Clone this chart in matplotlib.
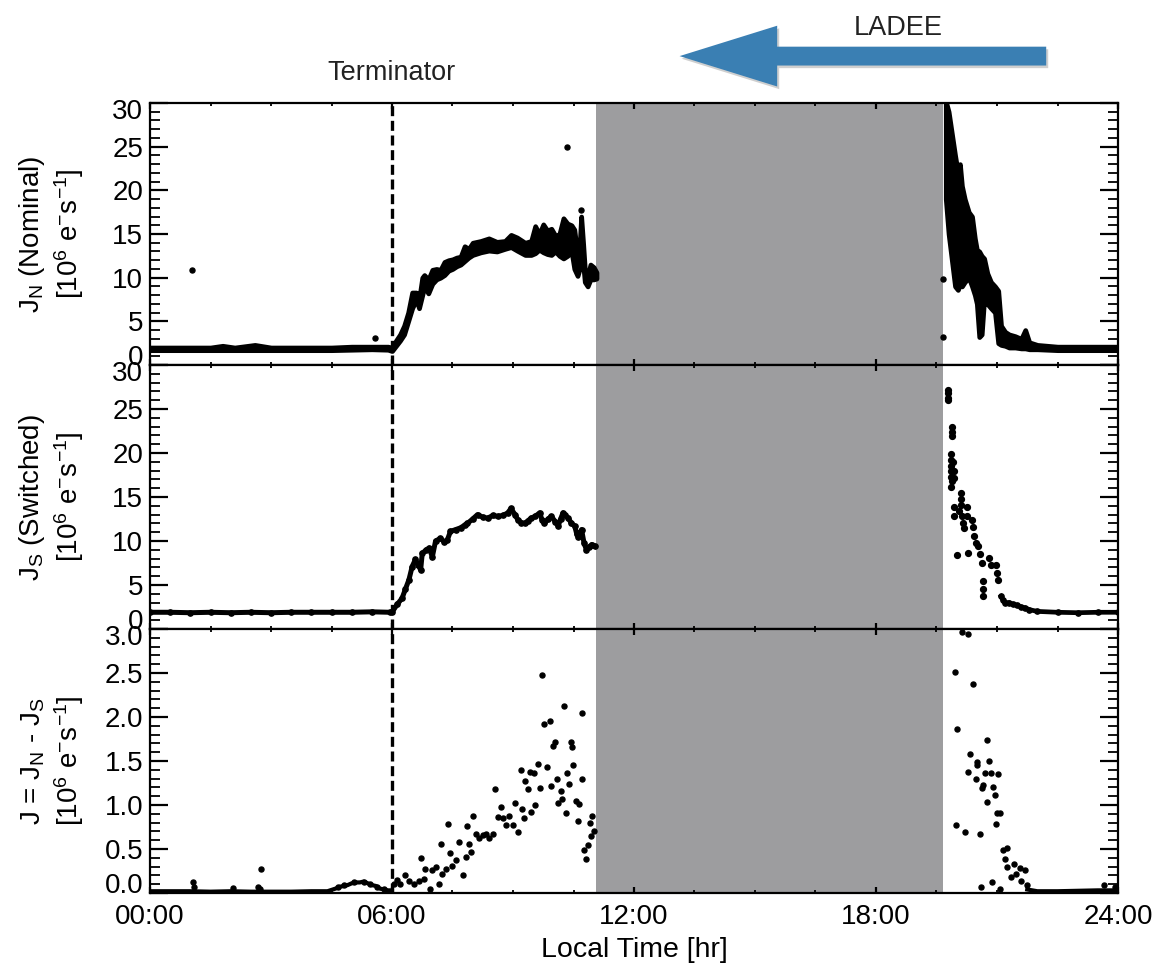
import numpy as np
import matplotlib
matplotlib.use("Agg")
import matplotlib.pyplot as plt
from matplotlib.ticker import MultipleLocator, FuncFormatter, FormatStrFormatter, FixedLocator
from matplotlib.transforms import blended_transform_factory, ScaledTranslation
from matplotlib.patches import Polygon

plt.rcParams['font.family'] = ['Liberation Sans', 'DejaVu Sans']
plt.rcParams['mathtext.default'] = 'regular'

# ---------------- data (hours, 10^6 e- s^-1) ----------------
terminator_hr = 6.0
gap_start_hr, gap_end_hr = 11.06, 19.65
x_ticks = [0, 6, 12, 18, 24]
y_ticks_top = [0, 5, 10, 15, 20, 25, 30]
y_ticks_bot = [0.0, 0.5, 1.0, 1.5, 2.0, 2.5, 3.0]

# Panel 1: J_N (Nominal) -- dense band, given as lower / upper envelope
jn_am_t = [0.0, 0.5, 1.0, 1.5, 1.8, 2.1, 2.6, 3.0, 3.5, 4.0,
           4.5, 5.0, 5.5, 5.9, 6.0, 6.1, 6.2, 6.3, 6.4, 6.5,
           6.6, 6.67, 6.75, 6.8, 6.9, 7.0, 7.1, 7.2, 7.3, 7.4,
           7.5, 7.6, 7.7, 7.8, 7.9, 8.0, 8.2, 8.4, 8.6, 8.8,
           8.95, 9.1, 9.3, 9.45, 9.55, 9.65, 9.75, 9.85, 9.95, 10.05,
           10.15, 10.25, 10.35, 10.45, 10.52, 10.6, 10.65, 10.69, 10.74, 10.78,
           10.85, 10.92, 11.0, 11.07]
jn_am_lo = [1.7, 1.7, 1.7, 1.7, 1.7, 1.7, 1.7, 1.7, 1.7, 1.7,
            1.7, 1.75, 1.8, 1.75, 1.6, 2.2, 2.8, 3.5, 5.0, 6.5,
            7.5, 6.5, 8.0, 9.0, 8.2, 9.3, 9.8, 10.0, 10.3, 10.8,
            11.0, 11.3, 11.5, 11.9, 12.3, 12.6, 12.9, 13.1, 13.0, 13.3,
            13.5, 13.1, 12.6, 12.6, 12.8, 13.2, 12.9, 12.7, 12.6, 13.0,
            12.5, 12.2, 12.5, 13.0, 11.0, 10.2, 11.0, 12.0, 11.5, 9.5,
            9.0, 9.8, 9.8, 9.9]
jn_am_hi = [2.0, 2.0, 2.0, 2.0, 2.2, 2.0, 2.3, 2.0, 2.0, 2.0,
            2.0, 2.1, 2.1, 2.1, 2.0, 2.8, 3.5, 4.5, 6.0, 8.3,
            8.3, 7.5, 10.0, 10.3, 9.8, 10.9, 11.0, 10.9, 11.8, 12.0,
            12.1, 12.3, 12.4, 13.6, 13.3, 14.0, 14.2, 14.5, 14.1, 14.2,
            14.9, 14.6, 14.0, 14.2, 15.9, 15.0, 16.1, 15.4, 15.6, 14.8,
            15.0, 16.8, 16.2, 16.0, 15.5, 12.5, 13.5, 17.0, 13.8, 11.0,
            10.2, 11.5, 11.2, 10.6]
jn_pm_t = [19.73, 19.8, 19.88, 19.96, 20.03, 20.08, 20.13, 20.2, 20.3, 20.38,
           20.45, 20.5, 20.56, 20.62, 20.68, 20.76, 20.85, 20.95, 21.03, 21.1,
           21.2, 21.3, 21.45, 21.6, 21.7, 21.8, 22.0, 22.5, 23.0, 23.5, 24.0]
jn_pm_lo = [19.0, 15.0, 12.0, 9.0, 8.6, 9.2, 9.0, 9.5, 10.0, 9.0,
            8.0, 7.0, 3.2, 3.5, 7.5, 7.0, 6.5, 6.0, 2.5, 2.3,
            2.2, 2.0, 2.0, 1.9, 1.9, 1.8, 1.8, 1.7, 1.7, 1.7, 1.7]
jn_pm_hi = [30.2, 29.0, 26.5, 24.0, 22.0, 23.0, 20.5, 19.0, 17.5, 17.0,
            14.5, 13.2, 13.0, 12.5, 12.2, 10.5, 9.5, 9.0, 8.5, 4.5,
            3.8, 3.5, 3.3, 3.0, 4.0, 2.6, 2.3, 2.1, 2.1, 2.1, 2.1]
jn_out_t = [1.05, 5.59, 10.35, 10.69, 19.67, 19.67]
jn_out_v = [10.9, 3.05, 25.0, 17.7, 9.85, 3.2]

# Panel 2: J_S (Switched)
js_am_t = [0.0, 0.5, 1.0, 1.5, 2.0, 2.5, 3.0, 3.5, 4.0, 4.5,
           5.0, 5.5, 5.95, 6.0, 6.13, 6.25, 6.33, 6.42, 6.5, 6.58,
           6.65, 6.71, 6.75, 6.85, 6.92, 7.0, 7.08, 7.2, 7.3, 7.37,
           7.45, 7.58, 7.7, 7.8, 7.87, 8.0, 8.12, 8.25, 8.37, 8.5,
           8.62, 8.75, 8.87, 8.95, 9.05, 9.12, 9.2, 9.29, 9.37, 9.45,
           9.55, 9.66, 9.72, 9.78, 9.87, 9.95, 10.05, 10.12, 10.18, 10.24,
           10.3, 10.37, 10.45, 10.53, 10.58, 10.62, 10.7, 10.76, 10.82, 10.88,
           10.95, 11.03]
js_am_v = [1.9, 1.9, 1.85, 1.9, 1.85, 1.9, 1.85, 1.9, 1.9, 1.9,
           1.9, 1.95, 1.9, 1.9, 2.8, 3.5, 4.5, 5.6, 7.1, 7.9,
           7.3, 6.7, 8.6, 9.0, 9.2, 8.2, 10.0, 10.3, 9.9, 10.1,
           11.1, 11.3, 11.5, 11.8, 12.0, 12.5, 13.0, 12.7, 12.6, 12.9,
           12.8, 12.9, 13.2, 13.7, 13.0, 12.4, 12.1, 12.0, 12.3, 12.6,
           12.8, 13.2, 12.4, 12.0, 12.5, 12.8, 12.2, 11.7, 12.5, 13.2,
           12.9, 12.6, 12.0, 11.7, 10.8, 10.5, 11.3, 9.8, 9.0, 9.3,
           9.6, 9.4]
js_pm_t = [19.78, 19.78, 19.78, 19.78,
           19.89, 19.89, 19.89,
           19.85, 19.86, 19.85, 19.87, 19.86, 19.88, 19.87,
           19.92, 19.93, 19.94,
           20.10, 20.10, 20.10,
           19.94, 19.94,
           20.05, 20.12, 20.15, 20.18,
           20.26, 20.26,
           20.37, 20.40, 20.44, 20.48,
           20.02, 20.27,
           20.53, 20.58, 20.63,
           20.80, 20.84,
           20.98, 21.00, 21.03,
           20.66, 20.66, 20.66]
js_pm_v = [27.2, 26.8, 26.3, 26.0,
           23.0, 22.4, 21.9,
           19.9, 19.2, 18.5, 17.9, 17.3, 16.8, 16.1,
           19.0, 18.0, 17.2,
           15.5, 14.8, 14.1,
           13.9, 12.8,
           13.4, 12.8, 12.0, 11.5,
           13.9, 12.8,
           12.4, 11.6, 10.6, 9.8,
           8.4, 8.6,
           9.4, 8.5, 7.5,
           8.1, 7.3,
           7.3, 6.4, 5.6,
           5.4, 4.6, 3.7]
js_tail_t = [21.1, 21.15, 21.2, 21.3, 21.4, 21.5, 21.6, 21.7, 21.8, 22.0, 22.5, 23.0, 23.5, 24.0]
js_tail_v = [3.7, 3.3, 3.0, 3.0, 2.8, 2.7, 2.5, 2.4, 2.2, 2.0, 1.9, 1.85, 1.9, 1.9]

# Panel 3: J = J_N - J_S
j_base_t = [0.0, 0.5, 1.0, 1.5, 2.0, 2.5, 3.0, 3.5, 4.0, 4.4,
            4.6, 4.7, 4.8, 4.9, 5.0, 5.1, 5.2, 5.3, 5.4, 5.5,
            5.6, 5.7, 5.8, 5.9, 6.0]
j_base_v = [0.02, 0.02, 0.02, 0.015, 0.02, 0.015, 0.015, 0.015, 0.02, 0.02,
            0.05, 0.07, 0.08, 0.09, 0.11, 0.12, 0.12, 0.13, 0.11, 0.09,
            0.08, 0.05, 0.04, 0.03, 0.03]
j_early_t = [1.06, 1.10, 2.05, 2.68, 2.74, 2.72, 4.67, 4.80, 5.05, 5.30, 5.46, 5.63, 5.79]
j_early_v = [0.125, 0.07, 0.057, 0.07, 0.277, 0.05, 0.07, 0.09, 0.125, 0.13, 0.1, 0.07, 0.04]
j_am_t = [6.04, 6.13, 6.21, 6.33, 6.42, 6.54, 6.67, 6.71, 6.79, 6.83,
          6.94, 7.0, 7.08, 7.17, 7.21, 7.25, 7.33, 7.39, 7.44, 7.5,
          7.58, 7.66, 7.75, 7.83, 7.87, 7.91, 7.97, 8.02, 8.08, 8.16,
          8.25, 8.33, 8.41, 8.5, 8.55, 8.62, 8.7, 8.74, 8.83, 8.91,
          8.99, 9.04, 9.12, 9.19, 9.22, 9.27, 9.3, 9.37, 9.41, 9.45,
          9.53, 9.55, 9.62, 9.66, 9.73, 9.78, 9.85, 9.91, 9.93, 9.99,
          10.03, 10.08, 10.12, 10.18, 10.22, 10.27, 10.31, 10.35, 10.39, 10.43,
          10.47, 10.49, 10.56, 10.6, 10.64, 10.7, 10.72, 10.76, 10.82, 10.86,
          10.91, 10.94, 10.97, 11.0]
j_am_v = [0.106, 0.15, 0.106, 0.2, 0.14, 0.106, 0.14, 0.4, 0.16, 0.277,
          0.05, 0.26, 0.3, 0.106, 0.56, 0.22, 0.277, 0.78, 0.45, 0.31,
          0.37, 0.58, 0.2, 0.41, 0.76, 0.56, 0.47, 0.87, 0.675, 0.62,
          0.66, 0.675, 0.62, 0.675, 1.18, 0.865, 0.98, 0.85, 0.77, 0.88,
          0.77, 1.02, 0.69, 1.4, 0.95, 0.85, 1.27, 1.18, 1.38, 0.92,
          1.365, 1.0, 1.47, 1.19, 2.48, 1.92, 1.43, 1.96, 1.22, 1.67,
          1.72, 1.29, 1.02, 1.16, 1.07, 2.12, 0.91, 1.36, 1.24, 1.72,
          1.66, 1.45, 1.04, 0.815, 1.01, 2.05, 1.29, 0.485, 0.39, 0.55,
          0.8, 0.645, 0.88, 0.71]
j_pm_t = [20.14, 20.29, 19.96, 20.41, 20.02, 20.74, 20.34, 20.50, 20.51, 20.80,
          20.28, 20.70, 20.85, 21.03, 20.48, 20.66, 20.62, 20.90, 20.94, 20.76,
          21.01, 21.07, 20.97, 19.99, 20.20, 20.57, 21.14, 21.25, 21.20, 21.25,
          21.43, 21.35, 21.47, 21.56, 21.70, 21.60, 21.74, 20.88, 20.61, 21.07,
          23.66, 23.93]
j_pm_v = [2.97, 2.94, 2.51, 2.38, 1.86, 1.74, 1.585, 1.49, 1.45, 1.50,
          1.38, 1.365, 1.36, 1.35, 1.29, 1.23, 1.19, 1.21, 1.11, 1.035,
          0.91, 0.91, 0.78, 0.77, 0.69, 0.675, 0.485, 0.51, 0.39, 0.30,
          0.33, 0.18, 0.22, 0.28, 0.26, 0.14, 0.087, 0.12, 0.07, 0.04,
          0.087, 0.07]
j_tail_t = [21.75, 22.0, 22.5, 23.0, 23.5, 24.0]
j_tail_v = [0.04, 0.02, 0.02, 0.025, 0.03, 0.03]

ylabels = [r'J$_N$ (Nominal)' + '\n' + r'[10$^6$ e$^{-}$s$^{-1}$]',
           r'J$_S$ (Switched)' + '\n' + r'[10$^6$ e$^{-}$s$^{-1}$]',
           r'J = J$_N$ - J$_S$' + '\n' + r'[10$^6$ e$^{-}$s$^{-1}$]']

# ---------------- layout ----------------
W, H = 1155, 965
fig = plt.figure(figsize=(W / 100, H / 100), dpi=100)
left_px, right_px = 150, 1118
edges = [103, 365, 629, 893]
axes = []
for i in range(3):
    ax = fig.add_axes([left_px / W, 1 - edges[i + 1] / H,
                       (right_px - left_px) / W, (edges[i + 1] - edges[i]) / H])
    axes.append(ax)
ax1, ax2, ax3 = axes

GRAY = '#9d9d9f'
MS = 3.6
for i, ax in enumerate(axes):
    ax.set_xlim(0, 24)
    ax.axvspan(gap_start_hr, gap_end_hr, color=GRAY, lw=0, zorder=0)
    ax.xaxis.set_major_locator(FixedLocator(x_ticks))
    ax.xaxis.set_minor_locator(MultipleLocator(1.5))
    ax.tick_params(which='both', direction='in', top=True, right=True)
    ax.tick_params(axis='y', which='major', length=13, width=1.6, labelsize=20, pad=5)
    ax.tick_params(axis='y', which='minor', length=7, width=1.3)
    ax.tick_params(axis='x', which='major', length=4.5, width=1.6, labelsize=20, pad=8)
    ax.tick_params(axis='x', which='minor', length=2.5, width=1.3)
    for s in ax.spines.values():
        s.set_linewidth(1.6)
        s.set_zorder(5)
    ax.set_ylabel(ylabels[i], fontsize=20, linespacing=1.2)
    ax.yaxis.set_label_coords(-0.066, 0.5)
    if i < 2:
        ax.set_ylim(0, 30)
        ax.yaxis.set_major_locator(FixedLocator(y_ticks_top))
        ax.yaxis.set_minor_locator(MultipleLocator(1))
        ax.tick_params(labelbottom=False)
    else:
        ax.set_ylim(0, 3.0)
        ax.yaxis.set_major_locator(FixedLocator(y_ticks_bot))
        ax.yaxis.set_minor_locator(MultipleLocator(0.1))
        ax.yaxis.set_major_formatter(FormatStrFormatter('%.1f'))

ax3.xaxis.set_major_formatter(FuncFormatter(lambda v, p: f'{int(round(v)):02d}:00'))
ax3.set_xlabel('Local Time [hr]', fontsize=20.5, labelpad=5)

# Panel 1
for t, lo, hi in [(jn_am_t, jn_am_lo, jn_am_hi), (jn_pm_t, jn_pm_lo, jn_pm_hi)]:
    ax1.fill_between(t, lo, hi, facecolor='k', edgecolor='k', lw=3.4, zorder=3)
ax1.plot(jn_out_t, jn_out_v, 'o', color='k', ms=MS, zorder=3)

# Panel 2
ax2.plot(js_am_t, js_am_v, '-o', color='k', lw=3.6, ms=3.8, zorder=3)
ax2.plot(js_pm_t, js_pm_v, 'o', color='k', ms=4.2, zorder=3)
ax2.plot(js_tail_t, js_tail_v, '-o', color='k', lw=3.4, ms=3.8, zorder=3)

# Panel 3
ax3.plot(j_base_t, j_base_v, '-', color='k', lw=3.0, zorder=3)
ax3.plot(j_early_t, j_early_v, 'o', color='k', ms=MS, zorder=3)
ax3.plot(j_am_t, j_am_v, 'o', color='k', ms=MS, zorder=3)
ax3.plot(j_pm_t, j_pm_v, 'o', color='k', ms=MS, zorder=3)
ax3.plot(j_tail_t, j_tail_v, '-', color='k', lw=3.0, zorder=3)

# Terminator dashed line across all panels
top_in_ax3 = (edges[3] - edges[0]) / (edges[3] - edges[2])
tr3 = blended_transform_factory(ax3.transData, ax3.transAxes)
ax3.plot([terminator_hr, terminator_hr], [0, top_in_ax3], transform=tr3,
         color='k', lw=2.4, linestyle=(0, (3.0, 1.4)), clip_on=False, zorder=6)

# Annotations above the top panel
tr1 = blended_transform_factory(ax1.transData, ax1.transAxes)
ax1.text(terminator_hr, 1.114, 'Terminator', transform=tr1, ha='center', va='center',
         fontsize=19.5, color='#222222')
arrow_tip_hr, arrow_base_hr, arrow_tail_hr = 13.13, 15.55, 22.22
yc, sh, hh = 1.179, 0.036, 0.116
verts = [(arrow_tip_hr, yc), (arrow_base_hr, yc + hh), (arrow_base_hr, yc + sh),
         (arrow_tail_hr, yc + sh), (arrow_tail_hr, yc - sh), (arrow_base_hr, yc - sh),
         (arrow_base_hr, yc - hh)]
shadow = Polygon([(x + 0.05, y - 0.01) for x, y in verts], closed=True, transform=tr1,
                 facecolor='#cfcfcf', edgecolor='none', clip_on=False, zorder=1)
ax1.add_patch(shadow)
arrow = Polygon(verts, closed=True, transform=tr1, facecolor='#3a7fb3',
                edgecolor='none', clip_on=False, zorder=2)
ax1.add_patch(arrow)
ax1.text(18.55, 1.286, 'LADEE', transform=tr1, ha='center', va='center',
         fontsize=19.5, color='#222222')

# Keep the end tick labels inside each panel, as in the original
shift_down = ScaledTranslation(0, -6 / 100, fig.dpi_scale_trans)
for ax in axes:
    labels = ax.get_yticklabels()
    labels[0].set_verticalalignment('baseline')
    labels[-1].set_transform(labels[-1].get_transform() + shift_down)

fig.savefig('out.png', dpi=100)
